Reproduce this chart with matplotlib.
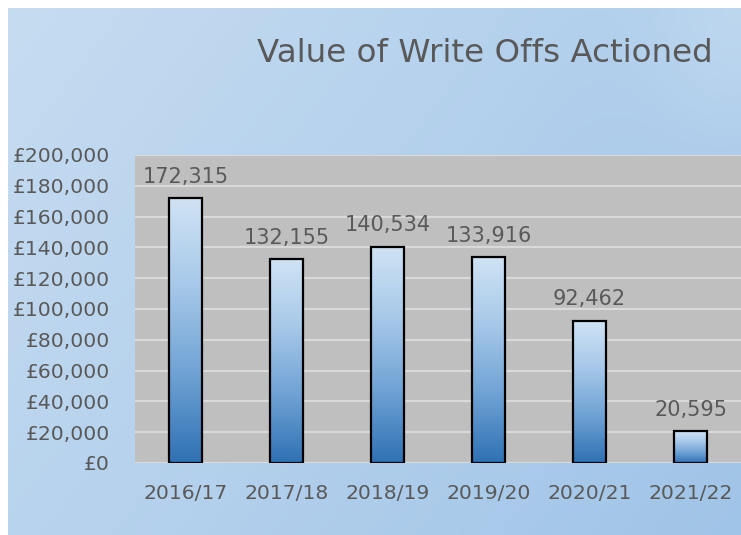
import numpy as np
import matplotlib.pyplot as plt
from matplotlib.colors import LinearSegmentedColormap
from matplotlib.ticker import FuncFormatter

years = ['2016/17', '2017/18', '2018/19', '2019/20', '2020/21', '2021/22']
values = [172315, 132155, 140534, 133916, 92462, 20595]
y_ticks = list(range(0, 200001, 20000))
title = 'Value of Write Offs Actioned'

text_col = '#595959'
plt.rcParams['font.family'] = ['DejaVu Sans']

fig = plt.figure(figsize=(7.41, 5.35), dpi=100)
fig.patch.set_facecolor('white')

# background of the chart area: soft blue gradient
bg = fig.add_axes([8 / 741, 0, 733 / 741, 527 / 535])
bg.set_axis_off()
xx, yy = np.meshgrid(np.linspace(0, 1, 300), np.linspace(0, 1, 220))
c_left = np.array([0xc6, 0xdc, 0xf1]) / 255
c_right = np.array([0xa0, 0xc4, 0xe7]) / 255
t = np.clip(0.65 * xx + 0.35 * yy, 0, 1)[..., None]
img = c_left * (1 - t) + c_right * t
# lighter corner at top right
corner = np.exp(-(((1 - xx) / 0.12) ** 2 + (yy / 0.25) ** 2))[..., None]
img = img * (1 - 0.5 * corner) + np.array([0xcc, 0xe0, 0xf3]) / 255 * 0.5 * corner
bg.imshow(img, aspect='auto', extent=[0, 1, 0, 1], origin='upper')
bg.set_xlim(0, 1)
bg.set_ylim(0, 1)

ax = fig.add_axes([135 / 741, 72 / 535, 606 / 741, 308 / 535])
ax.set_facecolor('#bfbfbf')
for s in ax.spines.values():
    s.set_visible(False)

x = np.arange(len(years))
bars = ax.bar(x, values, width=0.33, facecolor='none', edgecolor='black',
              linewidth=1.6, zorder=3)

bar_cmap = LinearSegmentedColormap.from_list(
    'bar', ['#2f71b4', '#6fa2d4', '#a6c8e9', '#d0e3f4'])
grad = np.linspace(0, 1, 256).reshape(-1, 1)
for b in bars:
    x0, y0 = b.get_x(), b.get_y()
    im = ax.imshow(grad, cmap=bar_cmap, aspect='auto', origin='lower',
                   extent=[x0, x0 + b.get_width(), y0, y0 + b.get_height()],
                   zorder=2)
    im.set_clip_path(b)

for xi, v in zip(x, values):
    ax.annotate(f'{v:,}', (xi, v), xytext=(0, 8), textcoords='offset points',
                ha='center', va='bottom', fontsize=15, color=text_col)

ax.set_xlim(-0.5, len(years) - 0.5)
ax.set_ylim(0, 200000)
ax.set_yticks(y_ticks)
ax.yaxis.set_major_formatter(FuncFormatter(lambda v, p: f'£{int(v):,}'))
ax.set_xticks(x)
ax.set_xticklabels(years)
ax.grid(axis='y', color='#d9d9d9', linewidth=1.6, zorder=1)
ax.set_axisbelow(True)
ax.tick_params(axis='both', length=0, labelsize=14.7, labelcolor=text_col)
ax.tick_params(axis='y', pad=18)
ax.tick_params(axis='x', pad=15)

fig.text(485 / 741, 1 - 53 / 535, title, ha='center', va='center',
         fontsize=23.4, color=text_col)

fig.savefig('out.png', dpi=100, facecolor=fig.get_facecolor())
